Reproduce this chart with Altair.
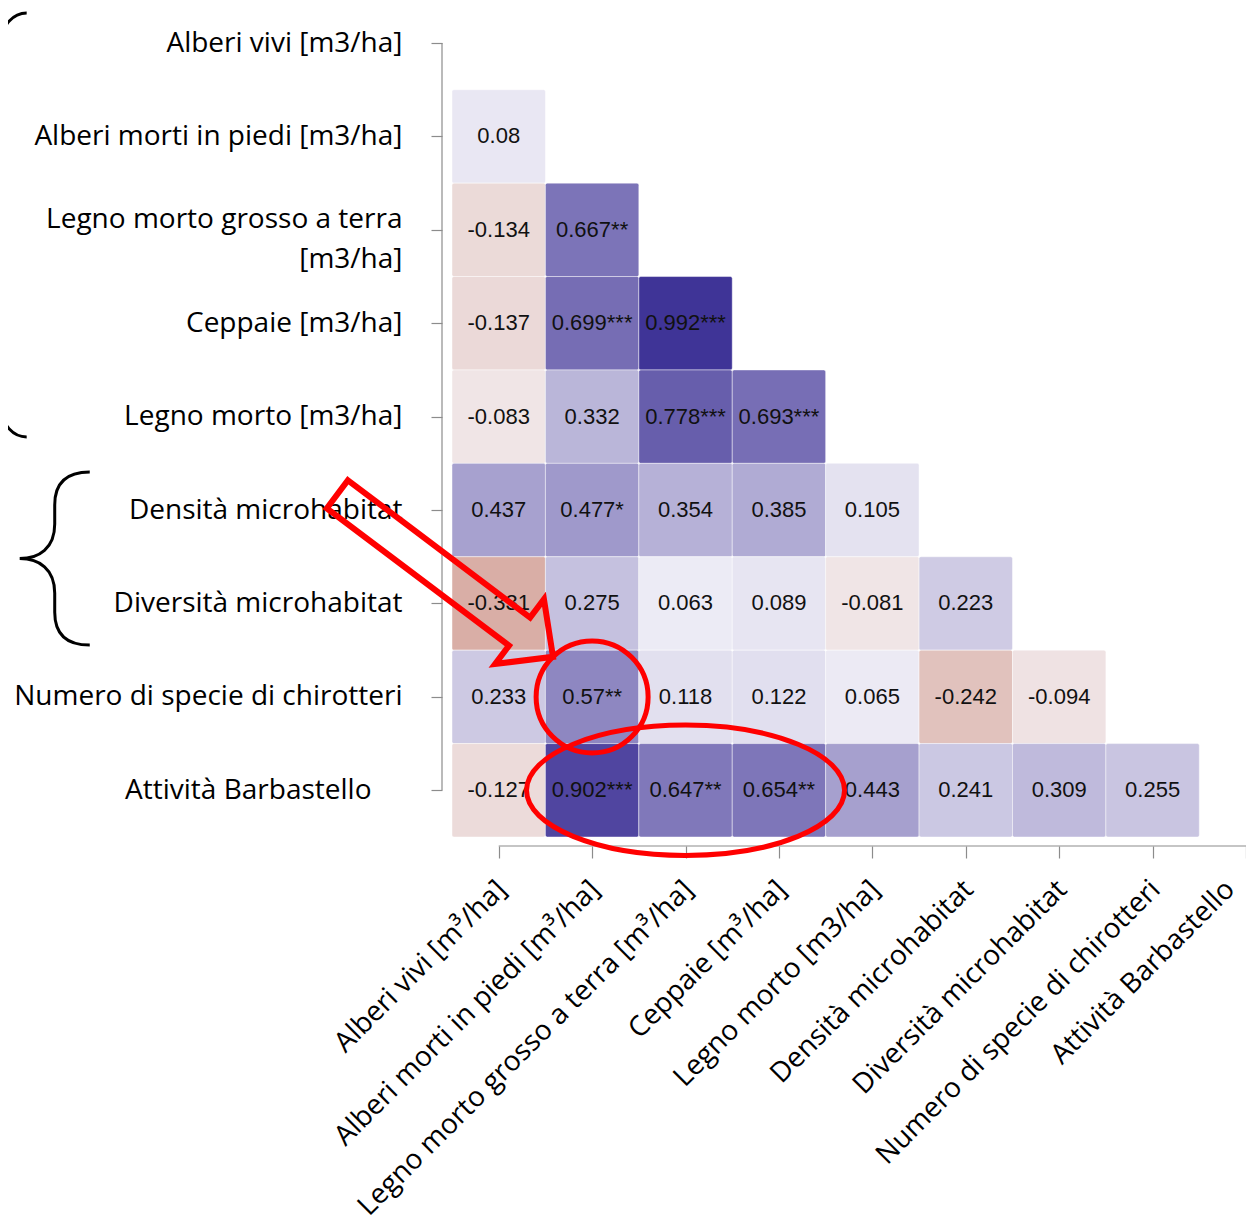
import json
import altair as alt
import pandas as pd

# ---------------- data ----------------
row_labels = [
    "Alberi vivi [m3/ha]",
    "Alberi morti in piedi [m3/ha]",
    ["Legno morto grosso a terra", "[m3/ha]"],
    "Ceppaie [m3/ha]",
    "Legno morto [m3/ha]",
    "Densità microhabitat",
    "Diversità microhabitat",
    "Numero di specie di chirotteri",
    "Attività Barbastello",
]
col_labels = [
    "Alberi vivi [m³/ha]",
    "Alberi morti in piedi [m³/ha]",
    "Legno morto grosso a terra [m³/ha]",
    "Ceppaie [m³/ha]",
    "Legno morto [m3/ha]",
    "Densità microhabitat",
    "Diversità microhabitat",
    "Numero di specie di chirotteri",
    "Attività Barbastello",
]
corr_rows = [
    [0.08],
    [-0.134, 0.667],
    [-0.137, 0.699, 0.992],
    [-0.083, 0.332, 0.778, 0.693],
    [0.437, 0.477, 0.354, 0.385, 0.105],
    [-0.331, 0.275, 0.063, 0.089, -0.081, 0.223],
    [0.233, 0.57, 0.118, 0.122, 0.065, -0.242, -0.094],
    [-0.127, 0.902, 0.647, 0.654, 0.443, 0.241, 0.309, 0.255],
]
stars_rows = [
    [""],
    ["", "**"],
    ["", "***", "***"],
    ["", "", "***", "***"],
    ["", "*", "", "", ""],
    ["", "", "", "", "", ""],
    ["", "**", "", "", "", "", ""],
    ["", "***", "**", "**", "", "", "", ""],
]

records = []
for i, (vals, sts) in enumerate(zip(corr_rows, stars_rows), start=1):
    for j, (v, s) in enumerate(zip(vals, sts)):
        records.append({"row": i, "col": j, "r": v, "label": f"{v}{s}"})
df = pd.DataFrame(records)

# annotations (red arrow / circles, black braces), positioned in cell units
def ellipse_path(e):
    k = 0.5523
    return (f"M 1 0 C 1 {k*e:.4f} {k:.4f} {e} 0 {e} "
            f"C {-k:.4f} {e} -1 {k*e:.4f} -1 0 "
            f"C -1 {-k*e:.4f} {-k:.4f} {-e} 0 {-e} "
            f"C {k:.4f} {-e} 1 {-k*e:.4f} 1 0 Z")

arrow_path = "M -1 -0.13 L 0.69 -0.13 L 0.69 -0.3 L 1 0 L 0.69 0.3 L 0.69 0.13 L -1 0.13 Z"
red_x = [2, 1, -0.573]
red_y = [8, 7, 5.701]
red_shape = [ellipse_path(0.41), ellipse_path(1.0), arrow_path]
red_size = [318 ** 2, 112 ** 2, 270 ** 2]
red_angle = [0, 0, 37]
red_sw = [5, 5, 6]
red_df = pd.DataFrame({"x": red_x, "y": red_y, "shape": red_shape,
                       "size": red_size, "angle": red_angle, "sw": red_sw})

brace_big = ("M 0.118 -1 C 0.053 -1 0 -0.938 0 -0.873 L 0 -0.2 C 0 -0.06 -0.06 0 -0.118 0 "
             "C -0.06 0 0 0.06 0 0.2 L 0 0.873 C 0 0.938 0.053 1 0.118 1")
brace_small = ("M 0.405 -1 C 0.12 -1 0 -0.86 0 -0.62 L 0 -0.4 C 0 -0.12 -0.18 0 -0.405 0 "
               "C -0.18 0 0 0.12 0 0.4 L 0 0.62 C 0 0.86 0.12 1 0.405 1")
brace_x = [-5.321, -4.753]
brace_y = [1.948, 5.519]
brace_shape = [brace_big, brace_small]
brace_size = [424 ** 2, 173 ** 2]
brace_df = pd.DataFrame({"x": brace_x, "y": brace_y, "shape": brace_shape, "size": brace_size})

axis_df = pd.DataFrame({"a": [0], "b": [8]})

# ---------------- chart ----------------
W, H = 794, 822
AXIS_GREY = "#8c8c8c"
LABEL_FONT = "Open Sans"
LABEL_SIZE = 28

xs = alt.Scale(domain=[-0.5, 8], nice=False, zero=False)
ys = alt.Scale(domain=[-0.3, 8.5], nice=False, zero=False, reverse=True)

x_axis = alt.Axis(
    values=list(range(9)),
    labelExpr=json.dumps(col_labels, ensure_ascii=False) + "[datum.value]",
    labelAngle=-45, labelAlign="right", labelBaseline="middle",
    labelFont=LABEL_FONT, labelFontSize=LABEL_SIZE, labelColor="black", labelLimit=0,
    labelPadding=27,
    labelOffset={"condition": {"test": "datum.value == 8", "value": -16}, "value": 3},
    labelOverlap=False, labelFlush=False,
    tickSize=12, tickColor=AXIS_GREY, tickWidth=1.2,
    domain=False, grid=False, offset=9, title=None,
)
y_axis = alt.Axis(
    values=list(range(9)),
    labelExpr=json.dumps(row_labels, ensure_ascii=False) + "[datum.value]",
    labelAlign="right", labelBaseline="middle",
    labelFont=LABEL_FONT, labelFontSize=LABEL_SIZE, labelColor="black", labelLimit=0,
    labelPadding={"condition": {"test": "datum.value == 8", "value": 60}, "value": 29},
    labelOffset={"condition": {"test": "datum.value == 2", "value": -10}, "value": 0},
    labelOverlap=False, labelFlush=False, labelLineHeight=40,
    tickSize=11, tickColor=AXIS_GREY, tickWidth=1.2,
    domain=False, grid=False, offset=10, title=None,
)

color_scale = alt.Scale(domain=[-0.5, 0, 1],
                        range=["#c9897a", "#f8f7fb", "#3e3296"],
                        interpolate="rgb", clamp=True)

base = alt.Chart(df)
rects = base.transform_calculate(
    x0="datum.col - 0.5", x1="datum.col + 0.5",
    y0="datum.row - 0.5", y1="datum.row + 0.5",
).mark_rect(stroke="white", strokeWidth=1, strokeOpacity=0.45, cornerRadius=2).encode(
    x=alt.X("x0:Q", scale=xs, axis=x_axis), x2="x1:Q",
    y=alt.Y("y0:Q", scale=ys, axis=y_axis), y2="y1:Q",
    color=alt.Color("r:Q", scale=color_scale, legend=None),
)
texts = base.mark_text(font="Liberation Sans", fontSize=22, color="#111111",
                       baseline="middle", align="center").encode(
    x=alt.X("col:Q", scale=xs, axis=x_axis),
    y=alt.Y("row:Q", scale=ys, axis=y_axis),
    text="label:N",
)
xdom = alt.Chart(axis_df).mark_rule(color=AXIS_GREY, strokeWidth=1.2).encode(
    x=alt.X("a:Q", scale=xs, axis=x_axis), x2="b:Q", y=alt.value(H + 9)
)
ydom = alt.Chart(axis_df).mark_rule(color=AXIS_GREY, strokeWidth=1.2).encode(
    y=alt.Y("a:Q", scale=ys, axis=y_axis), y2="b:Q", x=alt.value(-10)
)
red_ann = alt.Chart(red_df).mark_point(filled=False, opacity=1, color="#ff0000",
                                       strokeJoin="miter").encode(
    x=alt.X("x:Q", scale=xs, axis=x_axis),
    y=alt.Y("y:Q", scale=ys, axis=y_axis),
    shape=alt.Shape("shape:N", scale=None),
    size=alt.Size("size:Q", scale=None),
    angle=alt.Angle("angle:Q", scale=None),
    strokeWidth=alt.StrokeWidth("sw:Q", scale=None),
)
brace_ann = alt.Chart(brace_df).mark_point(filled=False, opacity=1, color="black",
                                           strokeWidth=3).encode(
    x=alt.X("x:Q", scale=xs, axis=x_axis),
    y=alt.Y("y:Q", scale=ys, axis=y_axis),
    shape=alt.Shape("shape:N", scale=None),
    size=alt.Size("size:Q", scale=None),
)

chart = alt.layer(rects, texts, xdom, ydom, red_ann, brace_ann).properties(
    width=W, height=H,
    autosize=alt.AutoSizeParams(type="none"),
    padding={"left": 444, "top": 7, "right": 0, "bottom": 392},
).configure_view(stroke=None)

chart.save("out.html", embed_options={"renderer": "svg", "actions": False})
